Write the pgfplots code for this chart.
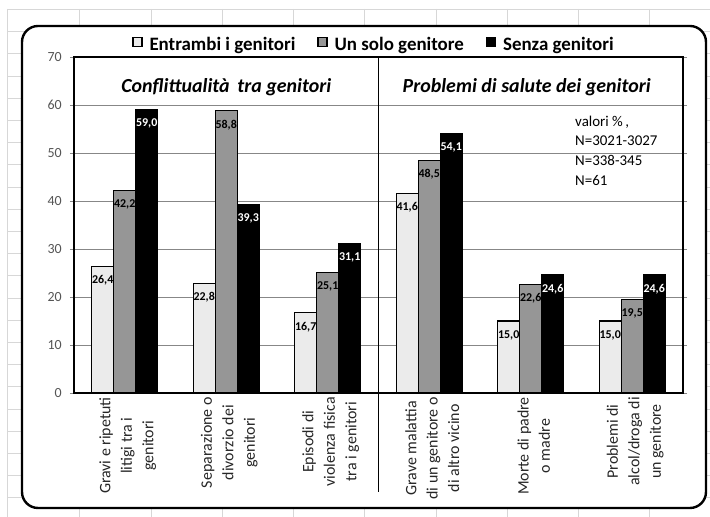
\documentclass[border=0pt]{standalone}
\usepackage{fontspec}
\setmainfont{Carlito}
\usepackage{pgfplots}
\pgfplotsset{compat=1.18}
\definecolor{barlight}{RGB}{235,235,235}
\definecolor{barmid}{RGB}{150,150,150}
\definecolor{cellgrid}{RGB}{215,215,215}
\definecolor{plotgrid}{RGB}{135,135,135}
\definecolor{ticktext}{RGB}{85,85,85}
\begin{document}
\begin{tikzpicture}
\useasboundingbox (0,0) rectangle (710bp,517bp);
% spreadsheet cell grid in the background
\begin{scope}[x=1bp,y=-1bp,yshift=517bp]
  \fill[white] (0,0) rectangle (710,517);
  \foreach \gx in {7,79,151,222,293,364,436,507,578,649} {\draw[cellgrid,line width=0.8bp] (\gx,9) -- (\gx,517);}
  \foreach \gy in {9.5,31.7,53.9,76.1,98.3,120.5,142.7,164.9,187.1,209.3,231.5,253.7,275.9,298.1,320.3,342.5,364.7,386.9,409.1,431.3,453.5,475.7,497.9} {\draw[cellgrid,line width=0.8bp] (7,\gy) -- (710,\gy);}
  \draw[fill=white,line width=2.4bp,rounded corners=16bp] (22,26) rectangle (706,508);
\end{scope}
\begin{axis}[
  at={(74bp,124bp)}, anchor=south west,
  width=609bp, height=336bp, scale only axis,
  ybar=0pt, bar width=22bp,
  xmin=-0.5, xmax=5.5, ymin=0, ymax=70,
  ytick={0,10,...,70},
  xtick={0,1,2,3,4,5},
  xticklabels={{Gravi e ripetuti\\litigi tra i\\genitori},{Separazione o\\divorzio dei\\genitori},{Episodi di\\violenza fisica\\tra i genitori},{Grave malattia\\di un genitore o\\di altro vicino},{Morte di padre\\o madre},{Problemi di\\alcol/droga di\\un genitore}},
  x tick style={draw=none},
  y tick style={plotgrid,line width=0.8bp},
  tick align=outside, major tick length=4bp,
  ymajorgrids, major grid style={plotgrid,line width=0.8bp},
  axis line style={black,line width=1.4bp},
  /pgf/number format/assume math mode=true,
  yticklabel style={font=\fontsize{14}{16}\selectfont, text=ticktext, inner sep=0pt, xshift=-8bp},
  xticklabel style={rotate=90, anchor=east, align=center, inner sep=0pt, yshift=-3bp, font=\fontsize{16}{21.5}\selectfont, text=black!85},
  clip=false,
  nodes near coords={\pgfmathprintnumber[fixed,fixed zerofill,precision=1,use comma,assume math mode=true]{\pgfplotspointmeta}},
  every node near coord/.append style={anchor=center, yshift=-14bp, font=\fontsize{12}{13}\selectfont\bfseries, inner sep=0pt},
  legend style={draw=none, fill=none, at={(0.4926,1)}, anchor=center, yshift=12bp, legend columns=3,
    font=\fontsize{19}{21}\selectfont\bfseries, inner sep=0pt,
    /tikz/every odd column/.append style={column sep=5bp},
    /tikz/every even column/.append style={column sep=20bp}},
  legend image code/.code={\draw[#1,line width=1.2bp] (0bp,-1.5bp) rectangle (9bp,7.5bp);},
]
\addplot[fill=barlight, draw=black, line width=1.3bp, every node near coord/.append style={text=black}] coordinates {(0,26.4) (1,22.8) (2,16.7) (3,41.6) (4,15.0) (5,15.0)};
\addplot[fill=barmid, draw=black, line width=1.3bp, every node near coord/.append style={text=black}] coordinates {(0,42.2) (1,58.8) (2,25.1) (3,48.5) (4,22.6) (5,19.5)};
\addplot[fill=black, draw=black, line width=1.3bp, every node near coord/.append style={text=white}] coordinates {(0,59.0) (1,39.3) (2,31.1) (3,54.1) (4,24.6) (5,24.6)};
\legend{Entrambi i genitori, Un solo genitore, Senza genitori}
\draw[black,line width=1.6bp] (axis cs:2.5,70) -- ([yshift=-99bp]axis cs:2.5,0);
\node[font=\fontsize{20}{22}\selectfont\bfseries\itshape] at (axis cs:1.0,63.75) {Conflittualità\,\ tra genitori};
\node[font=\fontsize{20}{22}\selectfont\bfseries\itshape] at (axis cs:3.96,63.75) {Problemi di salute dei genitori};
\node[font=\fontsize{15}{18}\selectfont, anchor=base west, inner sep=0pt] at (axis cs:4.436,55.6) {valori \%\,,};
\node[font=\fontsize{15}{18}\selectfont, anchor=base west, inner sep=0pt] at (axis cs:4.436,51.5) {N=3021-3027};
\node[font=\fontsize{15}{18}\selectfont, anchor=base west, inner sep=0pt] at (axis cs:4.436,47.4) {N=338-345};
\node[font=\fontsize{15}{18}\selectfont, anchor=base west, inner sep=0pt] at (axis cs:4.436,43.3) {N=61};
\end{axis}
\end{tikzpicture}
\end{document}
